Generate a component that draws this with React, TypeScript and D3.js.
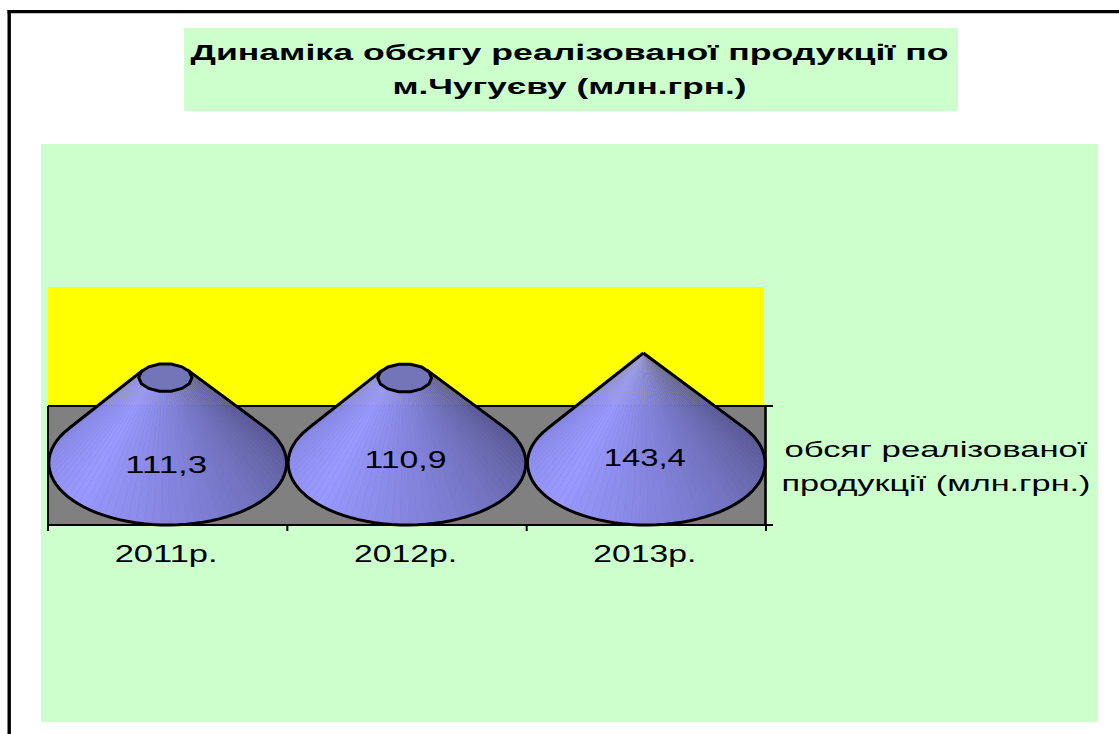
/**
 * Sales volume chart: 3D cones drawn as fans of flat facets.
 */
import * as d3 from 'd3';

const categories = ['2011р.', '2012р.', '2013р.'];
const salesValues = [111.3, 110.9, 143.4];
const valueLabels = ['111,3', '110,9', '143,4'];
const titleLines = ['Динаміка обсягу реалізованої продукції по', 'м.Чугуєву (млн.грн.)'];
const legendLines = ['обсяг реалізованої', 'продукції (млн.грн.)'];

const FONT = '"Liberation Sans", Arial, sans-serif';
const FACETS = 60;

// the source image is stretched sideways, so text gets fixed widths
const TITLE_WIDTHS = [758, 354];
const LEGEND_WIDTHS = [303, 309];
const LABEL_DY = [10, 5, 3];

const x = d3.scaleBand<string>().domain(categories).range([48, 766]);
const y = d3.scaleLinear().domain([0, d3.max(salesValues) as number]).range([463, 353]);

const facetColor = d3
  .scaleLinear<string>()
  .domain([0, 0.08, 0.3, 0.55, 0.8, 1])
  .range(['#7f7fd2', '#8a8ae8', '#9999ff', '#8080d8', '#6565a8', '#505088'])
  .interpolate(d3.interpolateRgb);

const RY = 62;
const APEX_SHIFT = -3;
const WALL_LINE = 406;
const BOTTOM = 525;

function Cone({ category, value }: { category: string; value: number }) {
  const rx = x.bandwidth() / 2 - 0.8;
  const cx = (x(category) as number) + x.bandwidth() / 2;
  const cy = y(0);
  const max = y.domain()[1];
  const apexX = cx + APEX_SHIFT;
  const apexY = y(max);
  const f = value / max;

  // tangent points of the lines from the apex, worked out on the unit circle
  const ux = APEX_SHIFT / rx;
  const uy = (apexY - cy) / RY;
  const phi = Math.atan2(uy, ux);
  const spread = Math.acos(1 / Math.hypot(ux, uy));
  const start = phi - spread;
  const end = phi + spread - Math.PI * 2; // sweep round the front of the base
  const angles = d3.range(FACETS + 1).map(i => start + ((end - start) * i) / FACETS);

  const base = angles.map(a => [cx + rx * Math.cos(a), cy + RY * Math.sin(a)] as [number, number]);
  const shrink = ([px, py]: [number, number]) =>
    [px + (apexX - px) * f, py + (apexY - py) * f] as [number, number];
  const upper = base.map(shrink);

  const line = d3.line();
  const isTruncated = f < 1;
  const capPoints = d3
    .range(14)
    .map(i => (i / 14) * Math.PI * 2)
    .map(a => shrink([cx + rx * Math.cos(a), cy + RY * Math.sin(a)]));
  const outline = [upper[0], ...base, upper[FACETS]];

  return (
    <g>
      {/* underlays soften the facet seams: faint over the yellow, hidden below the wall */}
      <path d={line(outline) + 'Z'} fill="#7c7cc8" opacity={0.6} />
      <path d={line(outline) + 'Z'} fill="#7c7cc8" clipPath="url(#below-wall)" />
      {d3.range(FACETS).map(i => (
        <path
          key={i}
          d={line([base[i], base[i + 1], upper[i + 1], upper[i]]) + 'Z'}
          fill={facetColor((i + 0.5) / FACETS)}
        />
      ))}
      {isTruncated && <path d={line(capPoints) + 'Z'} fill="#7474b8" stroke="#000" strokeWidth={3} />}
      <path
        d={line(outline) as string}
        fill="none"
        stroke="#000"
        strokeWidth={3}
        strokeLinejoin="round"
      />
    </g>
  );
}

function StretchedText(props: {
  x: number;
  y: number;
  width: number;
  size: number;
  bold?: boolean;
  children: string;
}) {
  return (
    <text
      x={props.x}
      y={props.y}
      textAnchor="middle"
      textLength={props.width}
      lengthAdjust="spacingAndGlyphs"
      fontFamily={FONT}
      fontSize={props.size}
      fontWeight={props.bold ? 'bold' : 'normal'}
      fill="#000"
    >
      {props.children}
    </text>
  );
}

export default function App() {
  const [left, right] = x.range();
  const ticks = [...categories.map(c => x(c) as number), right];

  return (
    <svg
      width={1119}
      height={734}
      style={{ position: 'fixed', top: 0, left: 0, display: 'block', background: '#fff' }}
    >
      <defs>
        <clipPath id="below-wall">
          <rect x={left} y={WALL_LINE} width={right - left} height={BOTTOM - WALL_LINE + 5} />
        </clipPath>
      </defs>

      {/* Outer frame runs off the right and bottom of the image */}
      <line x1={7.5} x2={1119} y1={11.6} y2={11.6} stroke="#000" strokeWidth={3.2} />
      <line x1={9.2} x2={9.2} y1={10} y2={734} stroke="#000" strokeWidth={3.4} />

      {/* Title */}
      <rect x={184} y={28} width={774} height={83} fill="#ccffcc" />
      {titleLines.map((t, i) => (
        <StretchedText key={t} x={569.5} y={60 + i * 34} width={TITLE_WIDTHS[i]} size={22} bold>
          {t}
        </StretchedText>
      ))}

      {/* Chart area */}
      <rect x={41} y={144} width={1057} height={578} fill="#ccffcc" />
      <rect x={left} y={287} width={764 - left} height={WALL_LINE - 287} fill="#ffff00" />
      <rect x={left} y={WALL_LINE} width={right - left} height={BOTTOM - WALL_LINE} fill="#808080" />

      {/* Axes */}
      <line x1={left} x2={773} y1={WALL_LINE} y2={WALL_LINE} stroke="#000" strokeWidth={2} />
      <line x1={left} x2={773} y1={BOTTOM} y2={BOTTOM} stroke="#000" strokeWidth={2} />
      <line x1={left} x2={left} y1={WALL_LINE} y2={BOTTOM} stroke="#000" strokeWidth={2} />
      <line x1={765.5} x2={765.5} y1={WALL_LINE} y2={BOTTOM} stroke="#000" strokeWidth={2.6} />
      {ticks.map(t => (
        <line key={t} x1={t} x2={t} y1={BOTTOM} y2={531} stroke="#000" strokeWidth={2} />
      ))}

      {/* Cones */}
      {categories.map((c, i) => (
        <Cone key={c} category={c} value={salesValues[i]} />
      ))}

      {/* Value labels */}
      {categories.map((c, i) => (
        <StretchedText
          key={c}
          x={(x(c) as number) + x.bandwidth() / 2 - 1.5}
          y={y(0) + LABEL_DY[i]}
          width={82}
          size={23}
        >
          {valueLabels[i]}
        </StretchedText>
      ))}

      {/* Category labels */}
      {categories.map(c => (
        <StretchedText
          key={c}
          x={(x(c) as number) + x.bandwidth() / 2 - 1.5}
          y={562}
          width={103}
          size={23}
        >
          {c}
        </StretchedText>
      ))}

      {/* Legend */}
      {legendLines.map((t, i) => (
        <StretchedText key={t} x={936} y={457 + i * 34} width={LEGEND_WIDTHS[i]} size={22}>
          {t}
        </StretchedText>
      ))}
    </svg>
  );
}
